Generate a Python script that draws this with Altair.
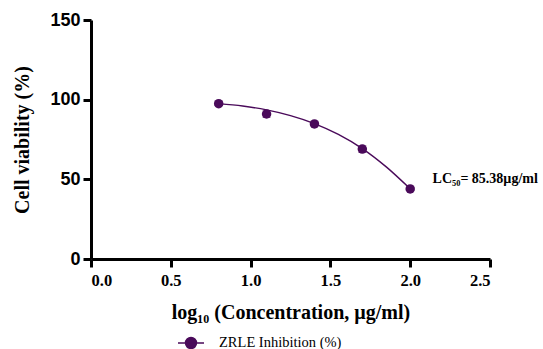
import altair as alt
import pandas as pd

# Measured points
log_conc = [0.8, 1.1, 1.4, 1.7, 2.0]
viability = [97.5, 91.0, 84.8, 69.0, 44.0]
err = [1.0, 2.0, 1.2, 2.0, 1.0]

# Fitted curve
curve_x = [0.8, 0.95, 1.1, 1.25, 1.4, 1.55, 1.7, 1.85, 2.0]
curve_y = [97.5, 96.0, 93.6, 90.0, 85.0, 78.2, 69.3, 57.8, 44.0]

series_name = "ZRLE Inhibition (%)"
annot_text = "LC₅₀= 85.38µg/ml"
annot_x = [2.14]
annot_y = [50.5]

x_title = "log₁₀ (Concentration, µg/ml)"
y_title = "Cell viability (%)"

color = "#4a0a5a"

pts = pd.DataFrame({"x": log_conc, "y": viability,
                    "lo": [v - e for v, e in zip(viability, err)],
                    "hi": [v + e for v, e in zip(viability, err)],
                    "s": [series_name] * len(log_conc)})
curve = pd.DataFrame({"x": curve_x, "y": curve_y, "s": [series_name] * len(curve_x)})
annot = pd.DataFrame({"x": annot_x, "y": annot_y, "t": [annot_text]})

xscale = alt.Scale(domain=[0, 2.5], nice=False, zero=False)
yscale = alt.Scale(domain=[0, 150], nice=False)

xaxis = alt.Axis(values=[0, 0.5, 1.0, 1.5, 2.0, 2.5], format=".1f", title=x_title)
yaxis = alt.Axis(values=[0, 50, 100, 150], title=y_title)

colscale = alt.Scale(domain=[series_name], range=[color])

line = alt.Chart(curve).mark_line(strokeWidth=1.4, interpolate="monotone").encode(
    x=alt.X("x:Q", scale=xscale, axis=xaxis),
    y=alt.Y("y:Q", scale=yscale, axis=yaxis),
    color=alt.Color("s:N", scale=colscale, legend=alt.Legend(
        title=None, orient="none", legendX=86, legendY=309,
        symbolType="M-1,0H1M-0.42,0A0.42,0.42,0,1,1,0.42,0A0.42,0.42,0,1,1,-0.42,0",
        symbolSize=676, symbolStrokeWidth=1.5, symbolFillColor=color,
        labelFont="Liberation Serif", labelFontSize=14.5, labelColor="black",
        labelOffset=14)),
)

bars = alt.Chart(pts).mark_errorbar(ticks=alt.MarkConfig(size=8), color=color).encode(
    x=alt.X("x:Q", scale=xscale, axis=xaxis),
    y=alt.Y("lo:Q", scale=yscale, axis=yaxis),
    y2="hi:Q",
)

points = alt.Chart(pts).mark_circle(size=90, opacity=1, color=color).encode(
    x=alt.X("x:Q", scale=xscale, axis=xaxis),
    y=alt.Y("y:Q", scale=yscale, axis=yaxis),
)

text = alt.Chart(annot).mark_text(align="left", baseline="middle", font="Liberation Serif",
                                  fontWeight="bold", fontSize=14, color="black").encode(
    x=alt.X("x:Q", scale=xscale, axis=xaxis),
    y=alt.Y("y:Q", scale=yscale, axis=yaxis),
    text="t:N")

chart = alt.layer(line, bars, points, text).properties(
    width=399, height=239,
    autosize=alt.AutoSizeParams(type="none"),
    padding={"left": 91, "top": 20, "right": 53, "bottom": 90},
).configure(background="white").configure_view(stroke=None).configure_axis(
    domainColor="black", domainWidth=3, tickColor="black", tickWidth=3,
    tickSize=8, grid=False, labelColor="black", titleColor="black",
    titleFont="Liberation Serif", titleFontWeight="bold", titleFontSize=20,
).configure_axisX(
    labelFont="Liberation Serif", labelFontWeight="bold", labelFontSize=16.5,
    labelPadding=5, titlePadding=14,
).configure_axisY(
    labelFont="Liberation Sans", labelFontWeight="bold", labelFontSize=18,
    labelPadding=3, titlePadding=17,
)

chart.save("out.html", embed_options={"renderer": "svg", "actions": False})
